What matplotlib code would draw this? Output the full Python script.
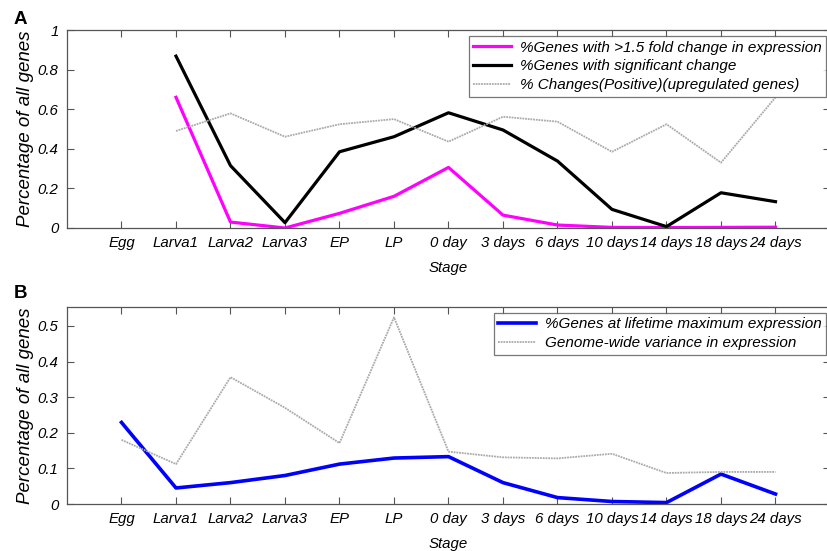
import matplotlib
matplotlib.use("Agg")
import matplotlib.pyplot as plt
import numpy as np

plt.rcParams['font.family'] = ['Liberation Sans', 'DejaVu Sans']

stages = ["Egg", "Larva1", "Larva2", "Larva3", "EP", "LP", "0 day", "3 days",
          "6 days", "10 days", "14 days", "18 days", "24 days"]

# Panel A (no value for Egg)
fold_change = [np.nan, 0.66, 0.03, 0.0, 0.074, 0.16, 0.306, 0.065, 0.015, 0.003, 0.002, 0.003, 0.004]
signif_change = [np.nan, 0.868, 0.315, 0.027, 0.385, 0.461, 0.582, 0.495, 0.338, 0.094, 0.007, 0.178, 0.133]
pos_changes = [np.nan, 0.49, 0.579, 0.461, 0.524, 0.55, 0.436, 0.562, 0.537, 0.385, 0.524, 0.33, 0.66]

# Panel B
lifetime_max = [0.229, 0.045, 0.06, 0.08, 0.112, 0.129, 0.133, 0.06, 0.018, 0.007, 0.004, 0.084, 0.028]
genome_var = [0.18, 0.112, 0.356, 0.27, 0.171, 0.524, 0.147, 0.131, 0.128, 0.141, 0.087, 0.09, 0.09]

yticks_a = [0, 0.2, 0.4, 0.6, 0.8, 1]
yticklabels_a = ["0", "0.2", "0.4", "0.6", "0.8", "1"]
yticks_b = [0, 0.1, 0.2, 0.3, 0.4, 0.5]
yticklabels_b = ["0", "0.1", "0.2", "0.3", "0.4", "0.5"]

W, H = 828, 551
fig = plt.figure(figsize=(W / 100, H / 100), dpi=100)

def box(l, t, r, b):
    return [l / W, 1 - b / H, (r - l) / W, (b - t) / H]

axA = fig.add_axes(box(67, 30, 830, 228))
axB = fig.add_axes(box(67, 307, 830, 504))

x = np.arange(1, len(stages) + 1)
fs = 10.8
lfs = 11
frame_col = "#555555"

def style(ax, yt, ytl, ylim):
    ax.set_xlim(0, 14)
    ax.set_ylim(*ylim)
    ax.set_xticks(x)
    ax.set_xticklabels(stages, fontsize=fs, style='italic')
    ax.set_yticks(yt)
    ax.set_yticklabels(ytl, fontsize=fs, style='italic')
    ax.tick_params(direction='in', top=True, right=True, length=5, color=frame_col, pad=6)
    for s in ax.spines.values():
        s.set_color(frame_col)
        s.set_linewidth(0.9)
    ax.set_xlabel("Stage", fontsize=fs, style='italic', labelpad=8)
    ax.set_ylabel("Percentage of all genes", fontsize=13.5, style='italic', labelpad=3)

leg_kw = dict(loc='upper right', bbox_to_anchor=(0.995, 0.97), prop={'style': 'italic', 'size': lfs},
              frameon=True, fancybox=False, edgecolor='#555555', borderpad=0.3, labelspacing=0.32,
              handlelength=2.5, handletextpad=0.55, borderaxespad=0)

axA.plot(x, fold_change, color='#ff00ff', lw=2.3, label="%Genes with >1.5 fold change in expression")
axA.plot(x, signif_change, color='black', lw=2.3, label="%Genes with significant change")
axA.plot(x, pos_changes, color='#aaaaaa', lw=1.3, ls=(0, (1, 0.5)), label="% Changes(Positive)(upregulated genes)")
style(axA, yticks_a, yticklabels_a, (0, 1))
legA = axA.legend(**leg_kw)
legA.get_frame().set_linewidth(0.9)

axB.plot(x, lifetime_max, color='#0000ff', lw=2.6, label="%Genes at lifetime maximum expression")
axB.plot(x, genome_var, color='#aaaaaa', lw=1.3, ls=(0, (1, 0.5)), label="Genome-wide variance in expression")
style(axB, yticks_b, yticklabels_b, (0, 0.553))
legB = axB.legend(**leg_kw)
legB.get_frame().set_linewidth(0.9)

fig.text(14 / W, 1 - 19 / H, "A", fontsize=13.5, fontweight='bold', va='center', ha='left')
fig.text(14 / W, 1 - 293 / H, "B", fontsize=13.5, fontweight='bold', va='center', ha='left')

fig.savefig("out.png", dpi=100)
